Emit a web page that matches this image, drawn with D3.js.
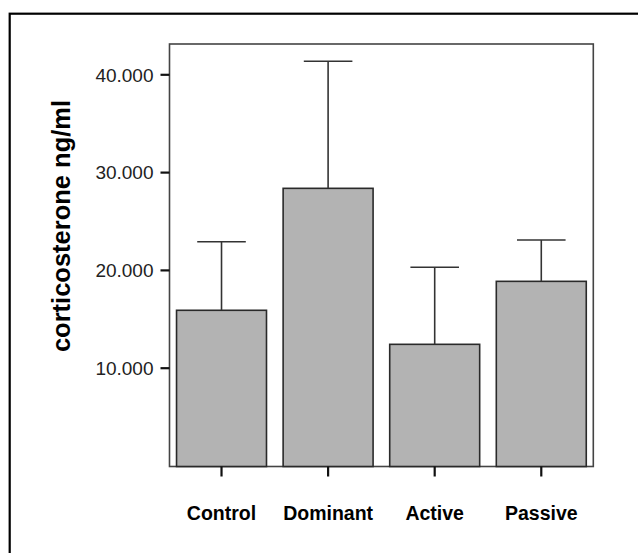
<!DOCTYPE html>
<html>
<head>
<meta charset="utf-8">
<script src="https://cdn.jsdelivr.net/npm/d3@7"></script>
<style>
  html, body { margin: 0; padding: 0; background: #fff; }
  svg { display: block; }
</style>
</head>
<body>
<svg id="chart" width="638" height="553"></svg>
<script>
// ---- data ----
const categories = ["Control", "Dominant", "Active", "Passive"];
const means = [15870, 28340, 12390, 18830];
const upperErrors = [22880, 41330, 20270, 23060];
const tickValues = [10000, 20000, 30000, 40000];
const tickLabels = ["10.000", "20.000", "30.000", "40.000"];
const yLabel = "corticosterone ng/ml";

// ---- layout ----
const svg = d3.select("#chart");
const plot = { left: 169.5, right: 593.3, top: 44, bottom: 466.5 };

const x = d3.scaleBand()
  .domain(categories)
  .range([plot.left, plot.right])
  .paddingInner(0.156)
  .paddingOuter(0.066);

const y = d3.scaleLinear()
  .domain([0, 40000])
  .range([465.5, 74.3]);

// outer frame (top & left visible, extends beyond viewport)
svg.append("rect")
  .attr("x", 9.7).attr("y", 13.7)
  .attr("width", 700).attr("height", 700)
  .attr("fill", "none")
  .attr("stroke", "#000")
  .attr("stroke-width", 2.2);

// plot frame
svg.append("rect")
  .attr("x", plot.left).attr("y", plot.top)
  .attr("width", plot.right - plot.left)
  .attr("height", plot.bottom - plot.top)
  .attr("fill", "#fff")
  .attr("stroke", "#444")
  .attr("stroke-width", 1.6);

// bars
svg.append("g").selectAll("rect")
  .data(categories)
  .join("rect")
  .attr("x", d => x(d))
  .attr("y", (d, i) => y(means[i]))
  .attr("width", x.bandwidth())
  .attr("height", (d, i) => plot.bottom - y(means[i]))
  .attr("fill", "#b3b3b3")
  .attr("stroke", "#2a2a2a")
  .attr("stroke-width", 1.6);

// error bars (upper only)
const capW = x.bandwidth() * 0.54;
const eg = svg.append("g").attr("stroke", "#333").attr("stroke-width", 1.6);
categories.forEach((c, i) => {
  const cx = x(c) + x.bandwidth() / 2;
  eg.append("line")
    .attr("x1", cx).attr("x2", cx)
    .attr("y1", y(means[i])).attr("y2", y(upperErrors[i]));
  eg.append("line")
    .attr("x1", cx - capW / 2).attr("x2", cx + capW / 2)
    .attr("y1", y(upperErrors[i])).attr("y2", y(upperErrors[i]));
});

// y axis
const yAxis = d3.axisLeft(y)
  .tickValues(tickValues)
  .tickFormat((d, i) => tickLabels[i])
  .tickSize(9)
  .tickPadding(7);
const yg = svg.append("g")
  .attr("transform", `translate(${plot.left},0)`)
  .call(yAxis);
yg.select(".domain").remove();
yg.selectAll(".tick line").attr("stroke", "#111").attr("stroke-width", 2.2);
yg.selectAll(".tick text")
  .attr("fill", "#222")
  .attr("font-family", "'Liberation Sans', Arial, sans-serif")
  .attr("font-size", "19px")
  .attr("dy", "0.36em");

// x axis
const xAxis = d3.axisBottom(x).tickSize(10).tickPadding(0);
const xg = svg.append("g")
  .attr("transform", `translate(0,${plot.bottom})`)
  .call(xAxis);
xg.select(".domain").remove();
xg.selectAll(".tick line").attr("stroke", "#111").attr("stroke-width", 2.2);
xg.selectAll(".tick text")
  .attr("fill", "#000")
  .attr("font-family", "'Liberation Sans', Arial, sans-serif")
  .attr("font-weight", "bold")
  .attr("font-size", "19.5px")
  .attr("dy", null)
  .attr("y", 53);

// y label
svg.append("text")
  .attr("transform", "translate(69.5,226) rotate(-90)")
  .attr("text-anchor", "middle")
  .attr("font-family", "'Liberation Sans', Arial, sans-serif")
  .attr("font-weight", "bold")
  .attr("font-size", "25.5px")
  .attr("fill", "#000")
  .text(yLabel);
</script>
</body>
</html>
